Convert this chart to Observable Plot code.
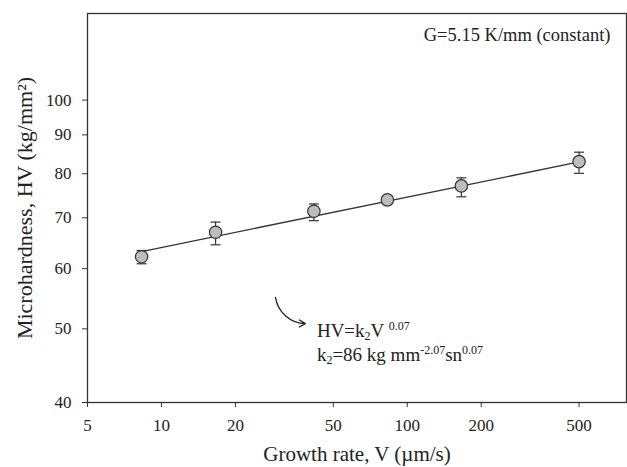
<!DOCTYPE html>
<html><head><meta charset="utf-8">
<script src="https://cdn.jsdelivr.net/npm/d3@7"></script>
<script src="https://cdn.jsdelivr.net/npm/@observablehq/plot@0.6"></script>
<style>body{margin:0;background:#fff}</style>
</head><body><div id="chart"></div>
<script>
const growthRate = [8.3, 16.6, 41.7, 83, 166, 500];
const hardness = [62.2, 67.0, 71.4, 73.9, 77.1, 83.0];
const errLow = [60.9, 64.5, 69.4, 73.3, 74.6, 80.1];
const errHigh = [63.4, 69.1, 73.0, 74.5, 79.0, 85.4];
const fitV = [8.3, 500];
const fitHV = [63.2, 82.9];
const xTicks = [5, 10, 20, 50, 100, 200, 500];
const yTicks = [40, 50, 60, 70, 80, 90, 100];
const xLabel = "Growth rate, V (\u00b5m/s)";
const yLabel = "Microhardness, HV (kg/mm\u00b2)";
const noteText = "G=5.15 K/mm (constant)";
const noteAt = {V: 671, HV: 119.7};
const arrowFrom = {V: 29.1, HV: 55.0};
const arrowTo = {V: 38.5, HV: 50.8};
const eqAt = {V: 43.1, HV1: 48.7, HV2: 45.3};

const points = growthRate.map((v, i) => ({v, hv: hardness[i], lo: errLow[i], hi: errHigh[i]}));
const fit = fitV.map((v, i) => ({v, hv: fitHV[i]}));
const capSymbol = {draw(ctx) { ctx.moveTo(-5, 0); ctx.lineTo(5, 0); }};
const serif = "'Liberation Serif', 'Times New Roman', serif";

const plot = Plot.plot({
  width: 627,
  height: 467,
  marginLeft: 87,
  marginTop: 13,
  marginRight: 1,
  marginBottom: 65,
  style: {fontFamily: serif, fontSize: "17px", color: "#222", background: "#fff"},
  x: {type: "log", domain: [5, 780]},
  y: {type: "log", domain: [40, 130]},
  marks: [
    Plot.frame({stroke: "#333", strokeWidth: 1.3}),
    Plot.axisX({ticks: xTicks, tickSize: 5, text: null, label: null, stroke: "#333"}),
    Plot.text(xTicks, {x: d => d, frameAnchor: "bottom", dy: 16, lineAnchor: "top", text: d => String(d), fontSize: 17, fill: "#222"}),
    Plot.axisY({ticks: yTicks, tickFormat: d => String(d), tickSize: 5, tickPadding: 11, fontSize: 17, label: null, stroke: "#333", fill: "#222"}),
    Plot.line(fit, {x: "v", y: "hv", stroke: "#333", strokeWidth: 1.3}),
    Plot.ruleX(points, {x: "v", y1: "lo", y2: "hi", stroke: "#333", strokeWidth: 1.2}),
    Plot.dot(points, {x: "v", y: "lo", symbol: capSymbol, stroke: "#333", fill: "none", strokeWidth: 1.2}),
    Plot.dot(points, {x: "v", y: "hi", symbol: capSymbol, stroke: "#333", fill: "none", strokeWidth: 1.2}),
    Plot.dot(points, {x: "v", y: "hv", r: 6.2, fill: "#bdbdbd", stroke: "#333", strokeWidth: 1.2}),
    Plot.text([noteText], {x: () => noteAt.V, y: () => noteAt.HV, text: d => d, textAnchor: "end", lineAnchor: "bottom", fontSize: 18.5, fill: "#222"}),
    Plot.arrow([0], {x1: () => arrowFrom.V, y1: () => arrowFrom.HV, x2: () => arrowTo.V, y2: () => arrowTo.HV, bend: -40, stroke: "#222", strokeWidth: 1.3, headLength: 8}),
    Plot.text([xLabel], {frameAnchor: "bottom", dy: 58, lineAnchor: "bottom", text: d => d, fontSize: 21, fill: "#222"}),
    Plot.text([yLabel], {frameAnchor: "left", dx: -63, rotate: -90, textAnchor: "middle", lineAnchor: "middle", text: d => d, fontSize: 22, fill: "#222"})
  ]
});

// Equation with sub/superscripts, placed through the plot's own scales
const sx = plot.scale("x"), sy = plot.scale("y");
const svg = d3.select(plot);
function addRich(parts, v, hv) {
  const t = svg.append("text")
    .attr("x", sx.apply(v)).attr("y", sy.apply(hv))
    .attr("text-anchor", "start")
    .attr("font-family", serif).attr("font-size", 19).attr("fill", "#222");
  let shift = 0;
  for (const [s, kind] of parts) {
    const target = kind === "sub" ? 3 : kind === "sup" ? -7 : 0;
    t.append("tspan").attr("dy", target - shift)
      .attr("font-size", kind ? 12 : 19).text(s);
    shift = target;
  }
}
addRich([["HV=k"], ["2", "sub"], ["V "], ["0.07", "sup"]], eqAt.V, eqAt.HV1);
addRich([["k"], ["2", "sub"], ["=86 kg mm"], ["-2.07", "sup"], ["sn"], ["0.07", "sup"]], eqAt.V, eqAt.HV2);

document.getElementById("chart").append(plot);
</script>
</body></html>
